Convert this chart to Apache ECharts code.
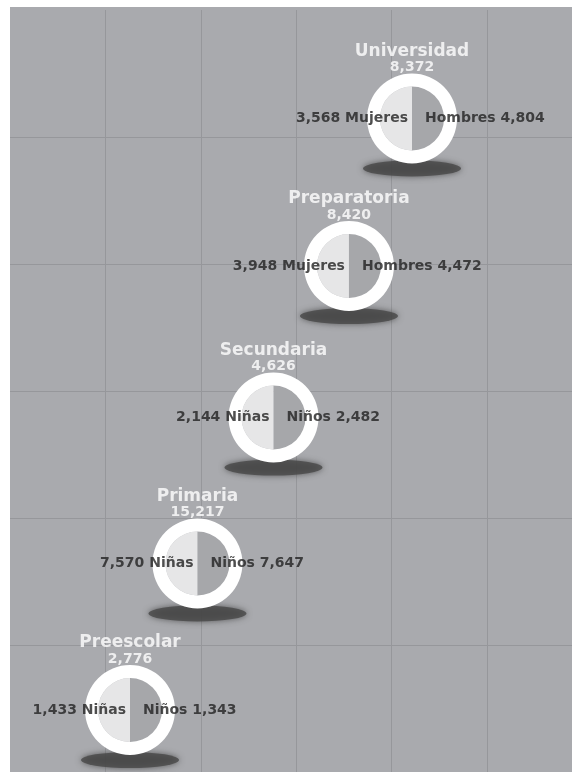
<!DOCTYPE html>
<html>
<head>
<meta charset="utf-8">
<script src="https://cdn.jsdelivr.net/npm/echarts@6/dist/echarts.min.js"></script>
<style>
html,body{margin:0;padding:0;background:#fff;}
#chart{width:572px;height:772px;}
</style>
</head>
<body>
<div id="chart"></div>
<script>
// ---- data ----
const categories = ['Preescolar', 'Primaria', 'Secundaria', 'Preparatoria', 'Universidad'];
const totals = [2776, 15217, 4626, 8420, 8372];
const femaleValues = [1433, 7570, 2144, 3948, 3568];
const maleValues = [1343, 7647, 2482, 4472, 4804];
const femaleNames = ['Niñas', 'Niñas', 'Niñas', 'Mujeres', 'Mujeres'];
const maleNames = ['Niños', 'Niños', 'Niños', 'Hombres', 'Hombres'];

// ---- layout (axis units: one grid cell = 1) ----
const layoutX = [1.258, 1.965, 2.762, 3.553, 4.214];
const layoutY = [0.488, 1.642, 2.791, 3.984, 5.146];

const fmt = v => v.toLocaleString('en-US');
const FONT = 'DejaVu Sans';
const BG = '#a9aaae';

const chart = echarts.init(document.getElementById('chart'), null, {renderer: 'canvas'});

const baseOption = {
  animation: false,
  backgroundColor: '#ffffff',
  grid: {left: 10, top: 10, right: 0, bottom: 0, show: true, backgroundColor: BG, borderWidth: 0},
  graphic: [{type: 'rect', left: 10, top: 7, shape: {width: 562, height: 4}, style: {fill: BG}, z: -10, silent: true}],
  xAxis: {
    type: 'value', min: 0, max: 5.891, interval: 1,
    axisLine: {show: false}, axisTick: {show: false}, axisLabel: {show: false},
    splitLine: {show: true, showMinLine: false, showMaxLine: false, lineStyle: {color: '#96979b', width: 1}}
  },
  yAxis: {
    type: 'value', min: 0, max: 6, interval: 1,
    axisLine: {show: false}, axisTick: {show: false}, axisLabel: {show: false},
    splitLine: {show: true, showMinLine: false, showMaxLine: false, lineStyle: {color: '#96979b', width: 1}}
  },
  series: []
};
chart.setOption(baseOption);

const points = categories.map((c, i) => [layoutX[i], layoutY[i]]);

const series = [];
// shadows
series.push({
  type: 'scatter', z: 1,
  data: points,
  symbol: 'circle', symbolSize: [98, 16], symbolOffset: [0, 50],
  itemStyle: {color: '#474747', shadowBlur: 6, shadowColor: 'rgba(60,60,60,0.9)'},
  silent: true
});

categories.forEach((c, i) => {
  const px = chart.convertToPixel({gridIndex: 0}, points[i]);
  // inner halves
  series.push({
    type: 'pie', z: 2, center: px, radius: [0, 32], startAngle: 90, clockwise: true,
    label: {show: false}, labelLine: {show: false}, silent: true,
    data: [
      {name: maleNames[i], value: 1, itemStyle: {color: '#a6a7aa'}},
      {name: femaleNames[i], value: 1, itemStyle: {color: '#e6e6e7'}}
    ]
  });
  // white ring
  series.push({
    type: 'pie', z: 3, center: px, radius: [32, 45],
    label: {show: false}, labelLine: {show: false}, silent: true,
    data: [{name: c, value: totals[i], itemStyle: {color: '#ffffff'}}]
  });
});

// texts
const txt = (formatter, extra) => ({
  type: 'scatter', z: 10, data: points, symbolSize: 0, silent: true,
  itemStyle: {color: 'transparent'},
  label: Object.assign({show: true, formatter: formatter, fontFamily: FONT}, extra)
});

series.push(txt(p => categories[p.dataIndex], {position: 'inside', offset: [0, -67], color: '#ffffff', fontSize: 17, fontWeight: 'bold'}));
series.push(txt(p => fmt(totals[p.dataIndex]), {position: 'inside', offset: [0, -51], color: '#ffffff', fontSize: 14, fontWeight: 'bold'}));
series.push(txt(p => fmt(femaleValues[p.dataIndex]) + ' ' + femaleNames[p.dataIndex], {position: 'left', distance: 4, color: '#222222', fontSize: 14, fontWeight: 'bold'}));
series.push(txt(p => maleNames[p.dataIndex] + ' ' + fmt(maleValues[p.dataIndex]), {position: 'right', distance: 13, color: '#222222', fontSize: 14, fontWeight: 'bold'}));

chart.setOption({series: series});
</script>
</body>
</html>
